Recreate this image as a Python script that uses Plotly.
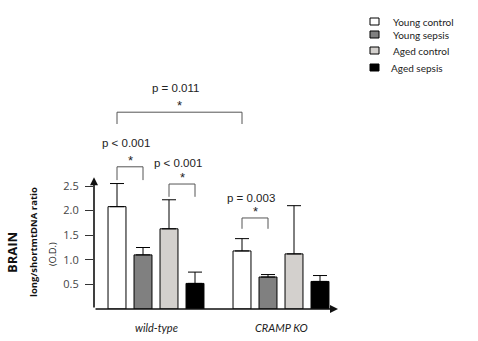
import plotly.graph_objects as go

# ---- data ----
groups = ["wild-type", "CRAMP KO"]
series = ["Young control", "Young sepsis", "Aged control", "Aged sepsis"]
means = {
    "Young control": [2.08, 1.18],
    "Young sepsis": [1.10, 0.65],
    "Aged control": [1.63, 1.12],
    "Aged sepsis": [0.52, 0.56],
}
errors = {
    "Young control": [0.47, 0.25],
    "Young sepsis": [0.15, 0.05],
    "Aged control": [0.59, 0.98],
    "Aged sepsis": [0.23, 0.12],
}
colors = ["#ffffff", "#808080", "#d3d0cd", "#000000"]
tick_vals = [0.5, 1.0, 1.5, 2.0, 2.5]
tick_text = ["0.5", "1.0", "1.5", "2.0", "2.5"]

# significance: (group_a, series_a, group_b, series_b, p-text, bracket top, bracket foot, text offset)
sig = [
    (0, 0, 1, 0, "p = 0.011", 4.00, 3.76, 0.49),
    (0, 0, 0, 1, "p < 0.001", 2.89, 2.62, 0.49),
    (0, 2, 0, 3, "p < 0.001", 2.54, 2.28, 0.43),
    (1, 0, 1, 1, "p = 0.003", 1.85, 1.63, 0.41),
]

W, H = 478, 341
ML, MR, MT, MB = 94, 140, 0, 32
PX_PER_UNIT = 49.2
plot_h = H - MT - MB
y_top = plot_h / PX_PER_UNIT
bargap = 0.168
nser = len(series)
slot = (1 - bargap) / nser
x_lo, x_hi = -0.496, 1.456

fig = go.Figure()
for i, s in enumerate(series):
    fig.add_trace(go.Bar(
        x=groups, y=means[s], name=s,
        marker=dict(color=colors[i], line=dict(color="black", width=1)),
        error_y=dict(type="data", array=errors[s], arrayminus=[0] * len(groups),
                     symmetric=False, color="black", thickness=1, width=7),
        showlegend=False,
    ))


def bar_center(g, s):
    return g + (s - (nser - 1) / 2) * slot


ann = []
shapes = []
font_p = dict(family="Liberation Sans, Arial", size=11.5, color="#222")
for ga, sa, gb, sb, txt, ytop, ybot, toff in sig:
    xa, xb = bar_center(ga, sa), bar_center(gb, sb)
    shapes.append(dict(type="path", xref="x", yref="y",
                       path=f"M {xa} {ybot} L {xa} {ytop} L {xb} {ytop} L {xb} {ybot}",
                       line=dict(color="#555", width=1)))
    xm = (xa + xb) / 2
    ann.append(dict(x=xm, y=ytop + 0.13, xref="x", yref="y", text="*", showarrow=False,
                    xanchor="center", yanchor="middle",
                    font=dict(family="Liberation Sans, Arial", size=13, color="#222")))
    ann.append(dict(x=xm - 0.03, y=ytop + toff, xref="x", yref="y", text=txt, showarrow=False,
                    xanchor="center", yanchor="middle", font=font_p))

# axis lines with arrows
ann.append(dict(x=x_lo, y=2.68, ax=x_lo, ay=0, xref="x", yref="y", axref="x", ayref="y",
                text="", showarrow=True, arrowhead=2, arrowsize=1, arrowwidth=1.6,
                arrowcolor="#111"))
ann.append(dict(x=x_hi, y=0, ax=x_lo, ay=0, xref="x", yref="y", axref="x", ayref="y",
                text="", showarrow=True, arrowhead=2, arrowsize=1, arrowwidth=1.6,
                arrowcolor="#111"))

# y titles
ann.append(dict(x=12, y=253, xref="paper", yref="paper", text="<b>BRAIN</b>", textangle=-90,
                showarrow=False, font=dict(family="Open Sans, Arial", size=13, color="#111")))
ann.append(dict(x=33, y=242, xref="paper", yref="paper", text="<b>long/shortmtDNA ratio</b>",
                textangle=-90, showarrow=False,
                font=dict(family="Open Sans, Arial", size=9.5, color="#111")))
ann.append(dict(x=52, y=254, xref="paper", yref="paper", text="(O.D.)", textangle=-90,
                showarrow=False, font=dict(family="Open Sans, Arial", size=9, color="#111")))

# group labels (placed under each group centre)
for g, name in enumerate(groups):
    ann.append(dict(x=g, y=(H - MB - 327) / plot_h, xref="x", yref="paper",
                    text=f"<i>{name}</i>", showarrow=False,
                    xanchor="center", yanchor="middle",
                    font=dict(family="Lato, Arial", size=11, color="#222")))

# legend
leg_y = [22, 35, 51, 68]
for i, s in enumerate(series):
    yy = leg_y[i]
    shapes.append(dict(type="rect", xref="paper", yref="paper",
                       x0=370, x1=379, y0=yy - 4, y1=yy + 3,
                       fillcolor=colors[i], line=dict(color="black", width=1)))
    ann.append(dict(x=391 if i < 3 else 389, y=yy, xref="paper", yref="paper", text=s,
                    xanchor="left", showarrow=False,
                    font=dict(family="Lato, Arial", size=10, color="#222")))


def fix_paper(a):
    # convert pixel coords given in paper refs to paper fractions
    if a.get("xref") == "paper":
        for k in ("x", "x0", "x1"):
            if k in a:
                a[k] = (a[k] - ML) / (W - ML - MR)
    if a.get("yref") == "paper" and a.get("xref") == "paper":
        for k in ("y", "y0", "y1"):
            if k in a:
                a[k] = (H - MB - a[k]) / plot_h
    if a.get("type") is None and "text" in a:
        a.setdefault("xanchor", "center")
        a.setdefault("yanchor", "middle")
    return a


ann = [fix_paper(a) for a in ann]
shapes = [fix_paper(s) for s in shapes]

fig.update_layout(
    width=W, height=H,
    margin=dict(l=ML, r=MR, t=MT, b=MB),
    paper_bgcolor="white", plot_bgcolor="white",
    barmode="group", bargap=bargap, bargroupgap=0.31,
    xaxis=dict(range=[x_lo, x_hi], showticklabels=False, showgrid=False, zeroline=False,
               showline=False, ticks=""),
    yaxis=dict(range=[0, y_top], tickvals=tick_vals, ticktext=tick_text, ticks="outside",
               ticklen=8, tickcolor="#333", showgrid=False, zeroline=False, showline=False,
               ticklabelstandoff=4,
               tickfont=dict(family="Open Sans, Arial", size=11, color="#444")),
    annotations=ann, shapes=shapes,
)

fig.write_html("out.html")
